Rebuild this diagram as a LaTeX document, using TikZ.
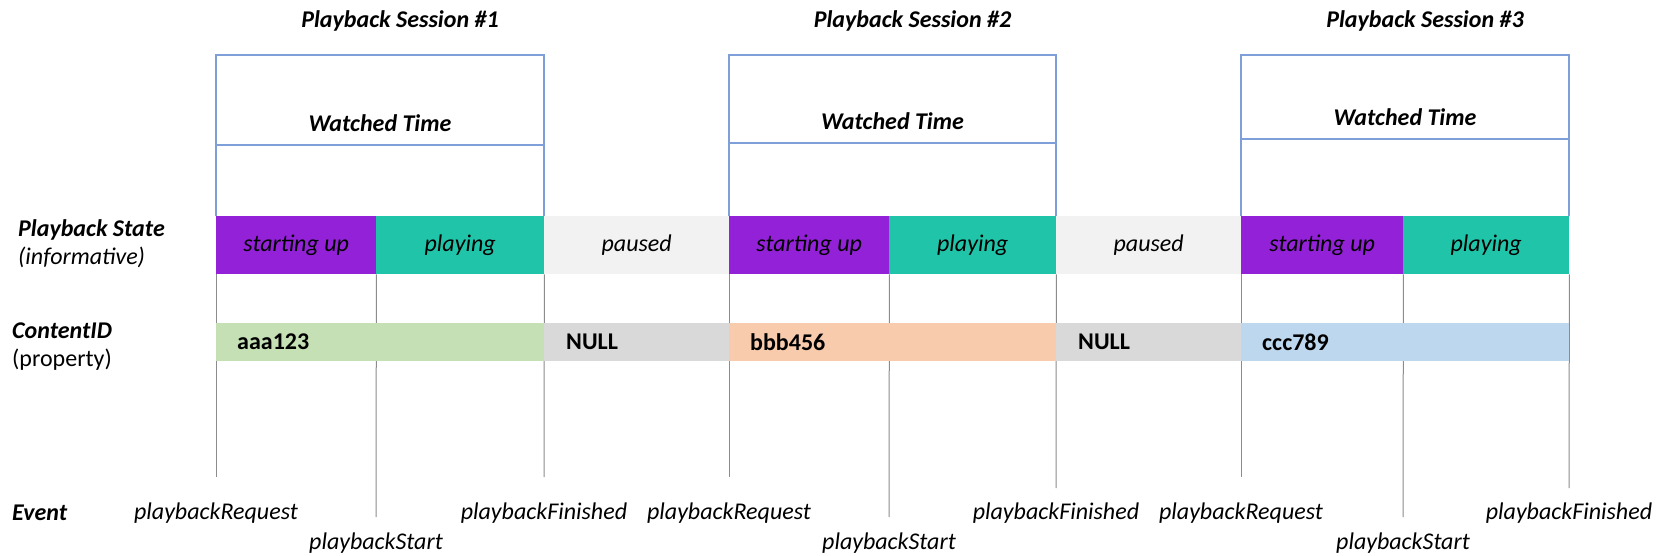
\documentclass[tikz,border=0pt]{standalone}
\usepackage{fontspec}
\setmainfont{Carlito}
\usetikzlibrary{positioning}

\definecolor{boxblue}{HTML}{7F9FD9}
\definecolor{startcol}{HTML}{9321D7}
\definecolor{playcol}{HTML}{20C4A8}
\definecolor{pausecol}{HTML}{F2F2F2}
\definecolor{nullcol}{HTML}{D9D9D9}
\definecolor{idgreen}{HTML}{C5E0B4}
\definecolor{idorange}{HTML}{F8CBAD}
\definecolor{idblue}{HTML}{BDD7EE}
\definecolor{evgray}{HTML}{8C8C8C}

\tikzset{
  statebar/.style={anchor=north west, inner sep=0pt, minimum height=58pt, font=\fontsize{24}{28}\selectfont\itshape},
  idbar/.style={anchor=north west, inner sep=0pt, minimum height=38pt},
  idtext/.style={anchor=west, inner sep=0pt, font=\fontsize{24}{28}\selectfont\bfseries},
  rowlabel/.style={anchor=west, inner sep=0pt, font=\fontsize{24}{28}\selectfont},
  sesstitle/.style={inner sep=0pt, font=\fontsize{24}{28}\selectfont\bfseries\itshape},
  evlabel/.style={inner sep=0pt, font=\fontsize{24}{28}\selectfont\itshape},
  evline/.style={draw=evgray, line width=1pt},
  wbox/.style={draw=boxblue, line width=1.1pt}
}

\begin{document}
\begin{tikzpicture}[x=1pt,y=-1pt]
\useasboundingbox (0,0) rectangle (1666,556);

% row labels
\node[rowlabel] (statelbl) at (18,230) {\bfseries\itshape Playback State};
\node[rowlabel] (stateinfo) at (18,257) {\itshape (informative)};
\node[rowlabel] (idlbl) at (12,331) {\bfseries\itshape ContentID};
\node[rowlabel] (idprop) at (12,360) {(property)};
\node[rowlabel] (evlbl) at (12,513) {\bfseries\itshape Event};

% sessions: number / start / split / end / divider / end of finish line
\foreach \n/\l/\s/\r/\d/\f in {1/216/376/544/145/477, 2/729/889/1056/143/488, 3/1241/1403/1569/139/488}{
  \node[sesstitle] (title\n) at ({(\l+\r)/2+20},21) {Playback Session \#\n};
  \draw[wbox] (\l,216) -- (\l,55) -- (\r,55) -- (\r,216);
  \draw[wbox] (\l,\d) -- (\r,\d);
  \node[sesstitle] (watch\n) at ({(\l+\r)/2},{\d-22}) {Watched Time};
  % playback state
  \node[statebar, fill=startcol, minimum width={(\s-\l)*1pt}] (start\n) at (\l,216) {starting up};
  \node[statebar, fill=playcol, minimum width={(\r-\s)*1pt}] (play\n) at (\s,216) {playing};
  % events
  \coordinate (req\n) at (\l,477);
  \coordinate (beg\n) at (\s,517);
  \coordinate (fin\n) at (\r,\f);
  \draw[evline] (start\n.south west) -- (req\n);
  \draw[evline] (start\n.south east) -- (beg\n);
  \draw[evline] (play\n.south east) -- (fin\n);
  \node[evlabel] (reqlbl\n) at (\l,513) {playbackRequest};
  \node[evlabel] (beglbl\n) at (\s,543) {playbackStart};
  \node[evlabel] (finlbl\n) at (\r,513) {playbackFinished};
}

% paused gaps
\node[statebar, fill=pausecol, minimum width=185pt] (pause1) at (544,216) {paused};
\node[statebar, fill=pausecol, minimum width=185pt] (pause2) at (1056,216) {paused};

% content id
\foreach \n/\l/\r/\cid/\col in {1/216/544/aaa123/idgreen, 2/729/1056/bbb456/idorange, 3/1241/1569/ccc789/idblue}{
  \node[idbar, fill=\col, minimum width={(\r-\l)*1pt}] (id\n) at (\l,323) {};
  \node[idtext] (idval\n) at (\l+21,342) {\cid};
}
\node[idbar, fill=nullcol, minimum width=185pt] (null1) at (544,323) {};
\node[idtext] (nullval1) at (566,342) {NULL};
\node[idbar, fill=nullcol, minimum width=185pt] (null2) at (1056,323) {};
\node[idtext] (nullval2) at (1078,342) {NULL};
\end{tikzpicture}
\end{document}
